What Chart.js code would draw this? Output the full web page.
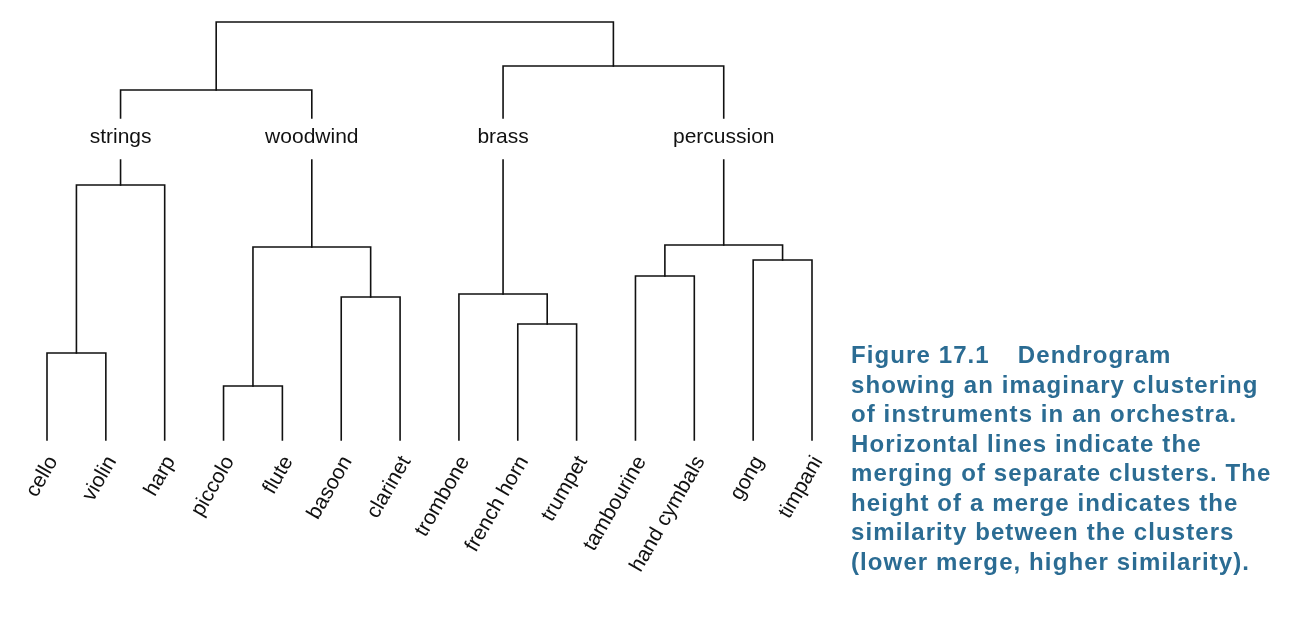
<!DOCTYPE html>
<html><head><meta charset="utf-8">
<script src="https://cdn.jsdelivr.net/npm/chart.js@4"></script>
<style>
body{margin:0;background:#fff;width:1310px;height:620px;overflow:hidden;position:relative}
#cap{position:absolute;left:851px;top:340px;font:bold 24px "Liberation Sans",Arial,sans-serif;letter-spacing:1.1px;color:#2b6c93;line-height:29.5px;white-space:nowrap}
</style></head><body>
<canvas id="c" width="1310" height="620"></canvas>
<div id="cap"><span style="margin-right:28px">Figure 17.1</span>Dendrogram<br>showing an imaginary clustering<br>of instruments in an orchestra.<br>Horizontal lines indicate the<br>merging of separate clusters. The<br>height of a merge indicates the<br>similarity between the clusters<br>(lower merge, higher similarity).</div>
<script>
var leaves = ['cello','violin','harp','piccolo','flute','basoon','clarinet','trombone','french horn','trumpet','tambourine','hand cymbals','gong','timpani'];
// merges: [left child, right child, height]; children >= 14 refer to earlier merges
var merges = [
  [0, 1, 87],      // 14 cello+violin
  [14, 2, 255],    // 15 strings
  [3, 4, 54],      // 16 piccolo+flute
  [5, 6, 143],     // 17 basoon+clarinet
  [16, 17, 193],   // 18 woodwind
  [8, 9, 116],     // 19 french horn+trumpet
  [7, 19, 146],    // 20 brass
  [10, 11, 164],   // 21 tambourine+hand cymbals
  [12, 13, 180],   // 22 gong+timpani
  [21, 22, 195],   // 23 percussion
  [15, 18, 350],   // 24
  [20, 23, 374],   // 25
  [24, 25, 418]    // 26 root
];
var groupNodes = [15, 18, 20, 23];
var groupNames = ['strings','woodwind','brass','percussion'];
var groupTop = 322, groupLabel = 303, groupBottom = 280;

var nx = leaves.map(function(l, i){ return i; });
var nh = leaves.map(function(){ return 0; });
merges.forEach(function(m){ nx.push((nx[m[0]] + nx[m[1]]) / 2); nh.push(m[2]); });

function childH(id){ return groupNodes.indexOf(id) >= 0 ? groupTop : nh[id]; }
var datasets = [];
function seg(pts){ datasets.push({data: pts, borderColor:'#111', borderWidth:1.6, pointRadius:0, fill:false, tension:0, clip:false}); }
merges.forEach(function(m){
  seg([{x:nx[m[0]], y:childH(m[0])}, {x:nx[m[0]], y:m[2]}, {x:nx[m[1]], y:m[2]}, {x:nx[m[1]], y:childH(m[1])}]);
});
groupNodes.forEach(function(g){ seg([{x:nx[g], y:groupBottom}, {x:nx[g], y:nh[g]}]); });

var labelsPlugin = {
  id: 'labels',
  afterDraw: function(chart){
    var c = chart.ctx, xs = chart.scales.x, ys = chart.scales.y;
    c.save();
    c.fillStyle = '#111';
    c.font = '21px "Liberation Sans", Arial, sans-serif';
    c.textAlign = 'center'; c.textBaseline = 'middle';
    groupNodes.forEach(function(g, i){ c.fillText(groupNames[i], xs.getPixelForValue(nx[g]), ys.getPixelForValue(groupLabel)); });
    c.textAlign = 'right';
    leaves.forEach(function(l, i){
      c.save();
      c.translate(xs.getPixelForValue(i) + 6, ys.getPixelForValue(0) + 18);
      c.rotate(-Math.PI / 3);
      c.fillText(l, 0, 0);
      c.restore();
    });
    c.restore();
  }
};

new Chart(document.getElementById('c'), {
  type: 'line',
  data: { datasets: datasets },
  options: {
    responsive: false, animation: false,
    layout: { padding: { left: 47, right: 498, top: 22, bottom: 180 } },
    plugins: { legend: {display:false}, tooltip: {enabled:false} },
    elements: { line: { borderCapStyle: 'square' } },
    scales: {
      x: { type:'linear', min:0, max:13, display:false },
      y: { type:'linear', min:0, max:418, display:false }
    }
  },
  plugins: [labelsPlugin]
});
</script>
</body></html>
